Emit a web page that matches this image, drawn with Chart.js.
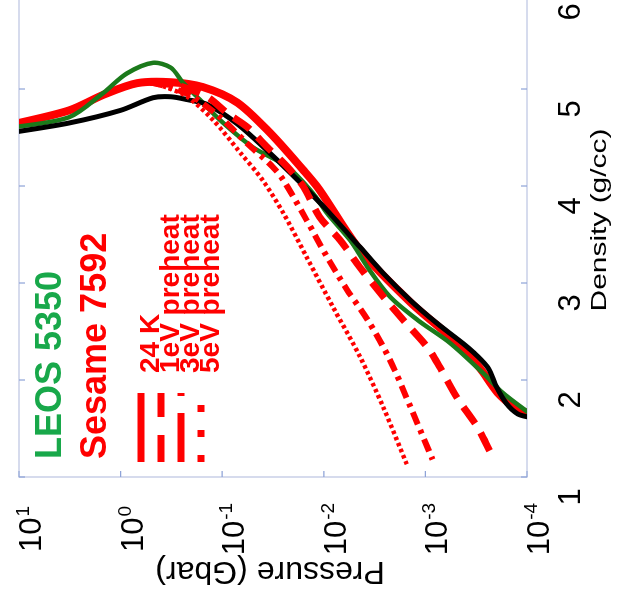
<!DOCTYPE html>
<html>
<head>
<meta charset="utf-8">
<script src="https://cdn.jsdelivr.net/npm/chart.js@4/dist/chart.umd.min.js"></script>
<style>
  body { margin: 0; background: #fff; overflow: hidden; width: 618px; height: 605px; position: relative; }
  /* the figure is stored turned a quarter turn to the left */
  #wrap { position: absolute; left: 0; top: 605px; width: 635px; height: 618px; transform-origin: 0 0; transform: rotate(-90deg); }
</style>
</head>
<body>
<div id="wrap"><canvas id="myChart" width="635" height="618"></canvas></div>
<script>
// density (g/cc) and pressure (Gbar)
const blackDensity = [4.55, 4.65, 4.78, 4.91, 4.92, 4.89, 4.84, 4.64, 4.34, 4.06, 3.75, 3.37, 3.10, 2.82, 2.59, 2.38, 2.25, 2.12, 1.93, 1.76, 1.65, 1.61];
const blackPressure = [12, 3.2, 1.0, 0.48, 0.32, 0.22, 0.14, 0.071, 0.034, 0.018, 0.0093, 0.0044, 0.0026, 0.0014, 0.00078, 0.00043, 0.00031, 0.00024, 0.0002, 0.00016, 0.000123, 0.00009];

const leosDensity = [4.60, 4.71, 4.96, 5.16, 5.27, 5.22, 5.07, 4.89, 4.68, 4.40, 4.20, 3.93, 3.72, 3.44, 3.16, 2.86, 2.62, 2.38, 2.07, 1.87, 1.64];
const leosPressure = [12, 3.2, 1.48, 0.87, 0.48, 0.32, 0.245, 0.166, 0.105, 0.05, 0.023, 0.0129, 0.0093, 0.0055, 0.0037, 0.00224, 0.0012, 0.00057, 0.00027, 0.000174, 0.00009];

const sesameDensity = [4.63, 4.78, 4.94, 5.06, 5.07, 5.02, 4.86, 4.55, 4.16, 3.96, 3.34, 2.80, 2.36, 2.12, 1.87, 1.72, 1.64];
const sesamePressure = [12, 3.2, 1.48, 0.69, 0.32, 0.155, 0.071, 0.034, 0.0158, 0.011, 0.0044, 0.0014, 0.00046, 0.00029, 0.000195, 0.000132, 0.00009];

const ev1Density = [5.07, 5.03, 4.92, 4.75, 4.61, 4.40, 4.20, 3.99, 3.68, 3.44, 3.16, 2.86, 2.62, 2.34, 2.13, 1.82, 1.52, 1.26];
const ev1Pressure = [0.51, 0.26, 0.141, 0.089, 0.057, 0.036, 0.023, 0.0158, 0.011, 0.0069, 0.0044, 0.0026, 0.00166, 0.00096, 0.00072, 0.00049, 0.00031, 0.00023];

const ev3Density = [5.07, 5.01, 4.92, 4.71, 4.44, 4.20, 4.06, 3.65, 3.27, 2.93, 2.62, 2.21, 1.72, 1.18];
const ev3Pressure = [0.51, 0.31, 0.195, 0.105, 0.057, 0.032, 0.025, 0.0148, 0.0093, 0.0059, 0.0037, 0.00224, 0.0014, 0.00085];

const ev5Density = [5.07, 5.01, 4.92, 4.68, 4.34, 4.06, 3.72, 3.27, 2.75, 2.24, 1.72, 1.12];
const ev5Pressure = [0.51, 0.34, 0.22, 0.123, 0.066, 0.040, 0.025, 0.0148, 0.0081, 0.0044, 0.0026, 0.00151];

const densityTicks = [1, 2, 3, 4, 5, 6];
const pressureTicks = [10, 1, 0.1, 0.01, 0.001, 0.0001];
const pressureExponents = ["1", "0", "-1", "-2", "-3", "-4"];

const font = '"Liberation Sans", Arial, sans-serif';

function points(xs, ys) {
  return xs.map((x, i) => ({ x: x, y: ys[i] }));
}

function curve(data, color, width, dash) {
  return {
    data: data,
    showLine: true,
    borderColor: color,
    backgroundColor: color,
    borderWidth: width,
    borderDash: dash,
    pointRadius: 0,
    tension: 0.3
  };
}

const extras = {
  id: "extras",
  beforeDatasetsDraw(chart) {
    const ctx = chart.ctx;
    const a = chart.chartArea;
    const xs = chart.scales.x;
    const ys = chart.scales.y;
    ctx.save();
    ctx.strokeStyle = "#c9d0e8";
    ctx.lineWidth = 1.5;
    ctx.strokeRect(a.left, a.top, a.right - a.left, a.bottom - a.top);
    ctx.strokeStyle = "#8ea3d8";
    ctx.lineWidth = 1.2;
    ctx.beginPath();
    densityTicks.forEach(d => {
      const px = xs.getPixelForValue(d);
      ctx.moveTo(px, a.top); ctx.lineTo(px, a.top + 6);
      ctx.moveTo(px, a.bottom); ctx.lineTo(px, a.bottom - 6);
    });
    pressureTicks.forEach(p => {
      const py = ys.getPixelForValue(p);
      ctx.moveTo(a.left, py); ctx.lineTo(a.left + 6, py);
      ctx.moveTo(a.right, py); ctx.lineTo(a.right - 6, py);
    });
    ctx.stroke();
    ctx.restore();
  },
  afterDraw(chart) {
    const ctx = chart.ctx;
    const a = chart.chartArea;
    const xs = chart.scales.x;
    const ys = chart.scales.y;
    ctx.save();
    ctx.fillStyle = "#000";
    ctx.textBaseline = "alphabetic";

    // pressure tick labels 10^n
    pressureTicks.forEach((p, i) => {
      const py = ys.getPixelForValue(p);
      ctx.font = "31px " + font;
      const w10 = ctx.measureText("10").width;
      ctx.font = "19px " + font;
      const wExp = ctx.measureText(pressureExponents[i]).width;
      const sx = a.left - 52 - (w10 + 1 + wExp) / 2;
      ctx.textAlign = "left";
      ctx.font = "31px " + font;
      ctx.fillText("10", sx, py + 22);
      ctx.font = "19px " + font;
      ctx.fillText(pressureExponents[i], sx + w10 + 1, py + 10);
    });

    // density tick labels
    ctx.font = "31px " + font;
    ctx.textAlign = "center";
    densityTicks.forEach(d => {
      ctx.fillText(String(d), xs.getPixelForValue(d) - 20, 580);
    });

    // axis titles (the density one is stretched along the axis in the original)
    ctx.save();
    ctx.translate(385, 606);
    ctx.scale(1.36, 1);
    ctx.font = "22px " + font;
    ctx.fillText("Density (g/cc)", 0, 0);
    ctx.restore();
    ctx.save();
    ctx.translate(43, 270);
    ctx.rotate(-Math.PI / 2);
    ctx.font = "32px " + font;
    ctx.fillText("Pressure (Gbar)", 0, 0);
    ctx.restore();

    // legend
    ctx.textAlign = "left";
    ctx.font = "bold 36px " + font;
    ctx.fillStyle = "#18a84a";
    ctx.fillText("LEOS 5350", 146, 61);
    ctx.fillStyle = "#ff0000";
    ctx.fillText("Sesame 7592", 146, 106);

    const rows = [
      { text: "24 K", dash: [], y: 141, w: 7 },
      { text: "1eV preheat", dash: [27, 18], y: 161, w: 7 },
      { text: "3eV preheat", dash: [49, 17, 3, 17], y: 181, w: 7 },
      { text: "5eV preheat", dash: [7, 18], y: 201, w: 7 }
    ];
    ctx.strokeStyle = "#ff0000";
    ctx.font = "bold 28px " + font;
    rows.forEach((r, i) => {
      ctx.lineWidth = r.w;
      ctx.setLineDash(r.dash);
      ctx.beginPath();
      ctx.moveTo(143, r.y);
      ctx.lineTo(212, r.y);
      ctx.stroke();
      ctx.fillText(r.text, 232, 159 + i * 20);
    });
    ctx.setLineDash([]);
    ctx.restore();
  }
};

new Chart("myChart", {
  type: "scatter",
  data: {
    datasets: [
      curve(points(ev5Density, ev5Pressure), "#ff0000", 4.5, [3.5, 3]),
      curve(points(ev3Density, ev3Pressure), "#ff0000", 6, [13, 6, 4, 6]),
      curve(points(ev1Density, ev1Pressure), "#ff0000", 7, [20, 11]),
      curve(points(blackDensity, blackPressure), "#000000", 5, []),
      curve(points(leosDensity, leosPressure), "#1b7a1b", 4.5, []),
      curve(points(sesameDensity, sesamePressure), "#ff0000", 8, [])
    ]
  },
  options: {
    responsive: false,
    animation: false,
    devicePixelRatio: 1,
    layout: { padding: { left: 128, right: 22, top: 19, bottom: 91 } },
    plugins: { legend: { display: false }, tooltip: { enabled: false } },
    scales: {
      x: { type: "linear", min: 1, max: 6, display: false },
      y: { type: "logarithmic", min: 0.0001, max: 10, display: false }
    }
  },
  plugins: [extras]
});
</script>
</body>
</html>
